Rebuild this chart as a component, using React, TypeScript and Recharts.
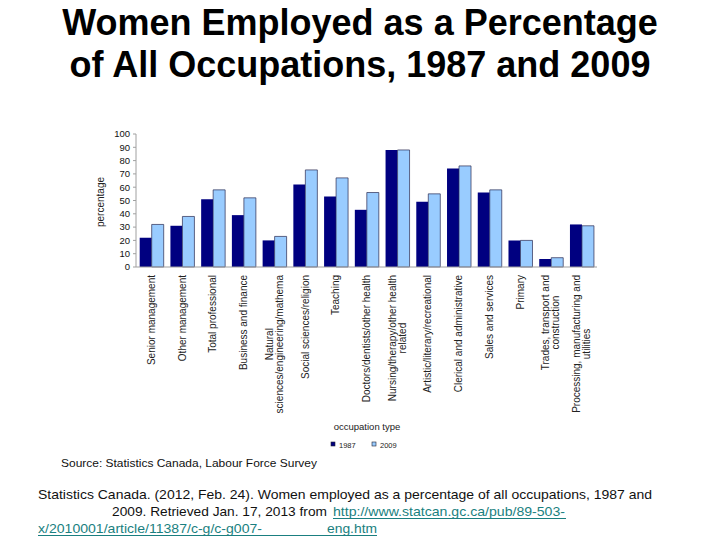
import React from "react";
import { BarChart, Bar, XAxis, YAxis, Legend } from "recharts";

// occupation categories (line breaks as in the original axis labels)
const categories = [
  "Senior management",
  "Other management",
  "Total professional",
  "Business and finance",
  "Natural\nsciences/engineering/mathema",
  "Social sciences/religion",
  "Teaching",
  "Doctors/dentists/other health",
  "Nursing/therapy/other health\nrelated",
  "Artistic/literary/recreational",
  "Clerical and administrative",
  "Sales and services",
  "Primary",
  "Trades, transport and\nconstruction",
  "Processing, manufacturing and\nutilities",
];

const values1987 = [22, 31, 51, 39, 20, 62, 53, 43, 88, 49, 74, 56, 20, 6, 32];
const values2009 = [32, 38, 58, 52, 23, 73, 67, 56, 88, 55, 76, 58, 20, 7, 31];

const yTicks = [0, 10, 20, 30, 40, 50, 60, 70, 80, 90, 100];

const seriesNames = ["1987", "2009"];
const seriesColors = ["#000080", "#99ccff"];

const data = categories.map((c, i) => ({
  category: c,
  y1987: values1987[i],
  y2009: values2009[i],
}));

const FONT = "'Liberation Sans', Arial, sans-serif";
const LINK = "#1a7f80";

let ctx: CanvasRenderingContext2D | null = null;
function measure(text: string, size: number) {
  if (!ctx) ctx = document.createElement("canvas").getContext("2d");
  if (!ctx) return text.length * size * 0.5;
  ctx.font = `${size}px 'Liberation Sans'`;
  return ctx.measureText(text).width;
}

function CategoryTick(props: any) {
  const { x, y, payload } = props;
  const lines = String(payload.value).split("\n");
  const size = 10;
  const maxW = Math.max(...lines.map((l) => measure(l, size)));
  return (
    <g transform={`translate(${x},${y}) rotate(-90)`}>
      {lines.map((ln, i) => (
        <text
          key={i}
          x={-maxW / 2}
          y={(i - (lines.length - 1) / 2) * 10}
          dy={3.5}
          textAnchor="middle"
          fontSize={size}
          fontFamily={FONT}
          fill="#222"
        >
          {ln}
        </text>
      ))}
    </g>
  );
}

function LegendContent() {
  return (
    <svg width={90} height={12}>
      {seriesNames.map((n, i) => (
        <g key={n} transform={`translate(${i * 41},0)`}>
          <rect x={1} y={3} width={4} height={4} fill={seriesColors[i]} stroke="#223" strokeWidth={0.6} />
          <text x={9} y={8.5} fontSize={7.5} fontFamily={FONT} fill="#222">{n}</text>
        </g>
      ))}
    </svg>
  );
}

export default function App() {
  return (
    <div style={{ position: "absolute", left: 0, top: 0, width: 720, height: 540, background: "#fff" }}>
      <BarChart
        width={720}
        height={540}
        data={data}
        margin={{ top: 134, right: 123, bottom: 113, left: 100 }}
        barCategoryGap="12%"
        barGap={0}
      >
        <XAxis
          dataKey="category"
          height={160}
          interval={0}
          tickSize={0}
          tickMargin={8}
          axisLine={{ stroke: "#a0a0a0" }}
          tick={<CategoryTick />}
        />
        <YAxis
          width={36}
          domain={[0, 100]}
          ticks={yTicks}
          interval={0}
          tickSize={3}
          tickMargin={3}
          axisLine={{ stroke: "#a0a0a0" }}
          tickLine={{ stroke: "#a0a0a0" }}
          tick={{ fontSize: 9.5, fontFamily: FONT, fill: "#111" }}
        />
        <Legend
          layout="horizontal"
          verticalAlign="middle"
          content={<LegendContent />}
          wrapperStyle={{ position: "absolute", left: 330, top: 437, width: 90 }}
        />
        <Bar dataKey="y1987" name={seriesNames[0]} fill={seriesColors[0]} isAnimationActive={false} />
        <Bar
          dataKey="y2009"
          name={seriesNames[1]}
          fill={seriesColors[1]}
          stroke="#2a2a50"
          strokeWidth={0.7}
          isAnimationActive={false}
        />
      </BarChart>

      <svg
        width={720}
        height={540}
        style={{ position: "absolute", left: 0, top: 0, pointerEvents: "none" }}
      >
        {/* title */}
        <text x={360} y={35} textAnchor="middle" fontSize={36} fontWeight="bold" fontFamily={FONT} fill="#000">
          Women Employed as a Percentage
        </text>
        <text x={360} y={77} textAnchor="middle" fontSize={36} fontWeight="bold" fontFamily={FONT} fill="#000">
          of All Occupations, 1987 and 2009
        </text>

        {/* axis titles */}
        <text
          transform="translate(104,202) rotate(-90)"
          textAnchor="middle"
          fontSize={10}
          fontFamily={FONT}
          fill="#222"
        >
          percentage
        </text>
        <text x={367} y={430} textAnchor="middle" fontSize={9.5} fontFamily={FONT} fill="#222">
          occupation type
        </text>

        {/* source & citation */}
        <text x={61} y={467} fontSize={11} fontFamily={FONT} fill="#111" textLength={256} lengthAdjust="spacingAndGlyphs">
          Source: Statistics Canada, Labour Force Survey
        </text>
        <text x={38} y={499} fontSize={13.5} fontFamily={FONT} fill="#111" textLength={614} lengthAdjust="spacingAndGlyphs">
          Statistics Canada. (2012, Feb. 24). Women employed as a percentage of all occupations, 1987 and
        </text>
        <text x={112} y={516} fontSize={13.5} fontFamily={FONT} fill="#111" textLength={215} lengthAdjust="spacingAndGlyphs">
          2009. Retrieved Jan. 17, 2013 from
        </text>
        <text x={333} y={516} fontSize={13.5} fontFamily={FONT} fill={LINK} textLength={232} lengthAdjust="spacingAndGlyphs">
          http://www.statcan.gc.ca/pub/89-503-
        </text>
        <line x1={333} y1={518.5} x2={566} y2={518.5} stroke={LINK} strokeWidth={1} />
        <text x={38} y={533} fontSize={13.5} fontFamily={FONT} fill={LINK} textLength={224} lengthAdjust="spacingAndGlyphs">
          x/2010001/article/11387/c-g/c-g007-
        </text>
        <text x={327} y={533} fontSize={13.5} fontFamily={FONT} fill={LINK} textLength={50} lengthAdjust="spacingAndGlyphs">
          eng.htm
        </text>
        <line x1={38} y1={535.5} x2={377} y2={535.5} stroke={LINK} strokeWidth={1} />
      </svg>
    </div>
  );
}
